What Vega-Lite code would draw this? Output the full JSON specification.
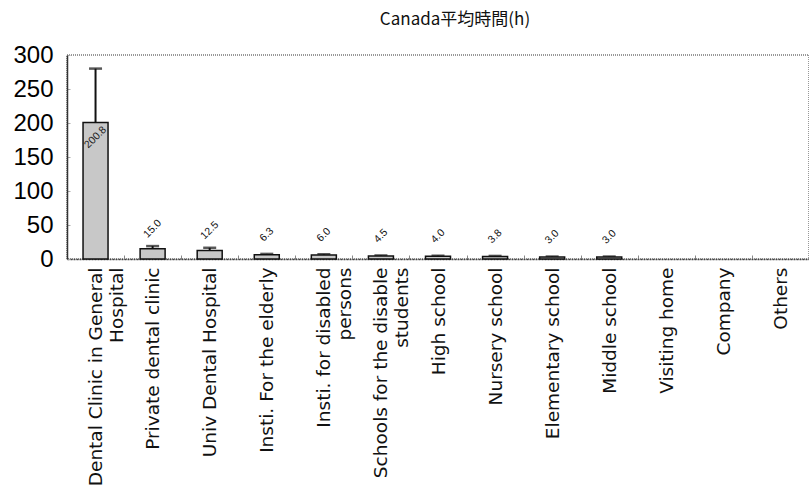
{
  "$schema": "https://vega.github.io/schema/vega-lite/v6.json",
  "width": 742,
  "height": 204,
  "autosize": {"type": "none"},
  "padding": {"left": 67, "top": 55, "right": 0, "bottom": 240},
  "background": "white",
  "config": {
    "font": "Liberation Sans",
    "view": {"stroke": "#777", "strokeDash": [1, 1], "strokeWidth": 1.5}
  },
  "title": {
    "text": "Canada平均時間(h)",
    "fontSize": 17,
    "fontWeight": "normal",
    "font": "Noto Sans CJK JP",
    "color": "#111",
    "anchor": "middle",
    "offset": 14,
    "dx": 17
  },
  "data": {
    "values": [
      {"place": "Dental Clinic in General|Hospital", "value": 200.8, "err": 280},
      {"place": "Private dental clinic", "value": 15.0, "err": 19},
      {"place": "Univ Dental Hospital", "value": 12.5, "err": 16.5},
      {"place": "Insti. For the elderly", "value": 6.3, "err": 7.5},
      {"place": "Insti. for disabled|persons", "value": 6.0, "err": 7},
      {"place": "Schools for the disable|students", "value": 4.5, "err": 5.2},
      {"place": "High school", "value": 4.0, "err": 4.8},
      {"place": "Nursery school", "value": 3.8, "err": 4.5},
      {"place": "Elementary school", "value": 3.0, "err": 3.6},
      {"place": "Middle school", "value": 3.0, "err": 3.6},
      {"place": "Visiting home", "value": null, "err": null},
      {"place": "Company", "value": null, "err": null},
      {"place": "Others", "value": null, "err": null}
    ]
  },
  "encoding": {
    "x": {
      "field": "place",
      "type": "nominal",
      "sort": null,
      "scale": {
        "paddingInner": 0,
        "paddingOuter": 0,
        "domain": ["Dental Clinic in General|Hospital", "Private dental clinic", "Univ Dental Hospital", "Insti. For the elderly", "Insti. for disabled|persons", "Schools for the disable|students", "High school", "Nursery school", "Elementary school", "Middle school", "Visiting home", "Company", "Others"]
      },
      "axis": {
        "title": null,
        "labelAngle": -90,
        "labelAlign": "right",
        "labelBaseline": "middle",
        "labelFont": "DejaVu Sans",
        "labelFontSize": 18.5,
        "labelColor": "#111",
        "labelPadding": 12,
        "labelLineHeight": 21,
        "labelExpr": "split(datum.label, '|')",
        "labelLimit": 400,
        "labelOverlap": false,
        "tickBand": "extent",
        "tickSize": -4,
        "tickColor": "#888",
        "domainColor": "#444",
        "domainDash": [2, 1],
        "domainWidth": 1.5
      }
    }
  },
  "layer": [
    {
      "mark": {"type": "rule", "color": "#111", "strokeWidth": 2},
      "encoding": {
        "y": {
          "field": "value",
          "type": "quantitative",
          "scale": {"domain": [0, 300]},
          "axis": {
            "title": null,
            "values": [0, 50, 100, 150, 200, 250, 300],
            "tickCount": 7,
            "labelFontSize": 24,
            "labelColor": "#000",
            "labelPadding": 17,
            "labelOverlap": false,
            "grid": false,
            "ticks": true,
            "tickSize": -3,
            "tickColor": "#aaa",
            "domainColor": "#333",
            "domainWidth": 1.5
          }
        },
        "y2": {"field": "err"}
      }
    },
    {
      "mark": {"type": "tick", "color": "#111", "size": 13, "thickness": 2.5},
      "encoding": {
        "y": {"field": "err", "type": "quantitative"}
      }
    },
    {
      "mark": {"type": "bar", "width": 25, "fill": "#c8c8c8", "stroke": "#111", "strokeWidth": 1.5},
      "encoding": {
        "y": {"field": "value", "type": "quantitative"}
      }
    },
    {
      "transform": [{"filter": "datum.value != null && datum.value < 100"}],
      "mark": {"type": "text", "angle": -45, "fontSize": 10.5, "color": "#111", "align": "center", "baseline": "middle", "yOffset": -20},
      "encoding": {
        "y": {"field": "value", "type": "quantitative"},
        "text": {"field": "value", "type": "quantitative", "format": ".1f"}
      }
    },
    {
      "transform": [{"filter": "datum.value >= 100"}],
      "mark": {"type": "text", "angle": -45, "fontSize": 10.5, "color": "#222", "align": "center", "baseline": "middle", "yOffset": 15},
      "encoding": {
        "y": {"field": "value", "type": "quantitative"},
        "text": {"field": "value", "type": "quantitative", "format": ".1f"}
      }
    }
  ]
}
